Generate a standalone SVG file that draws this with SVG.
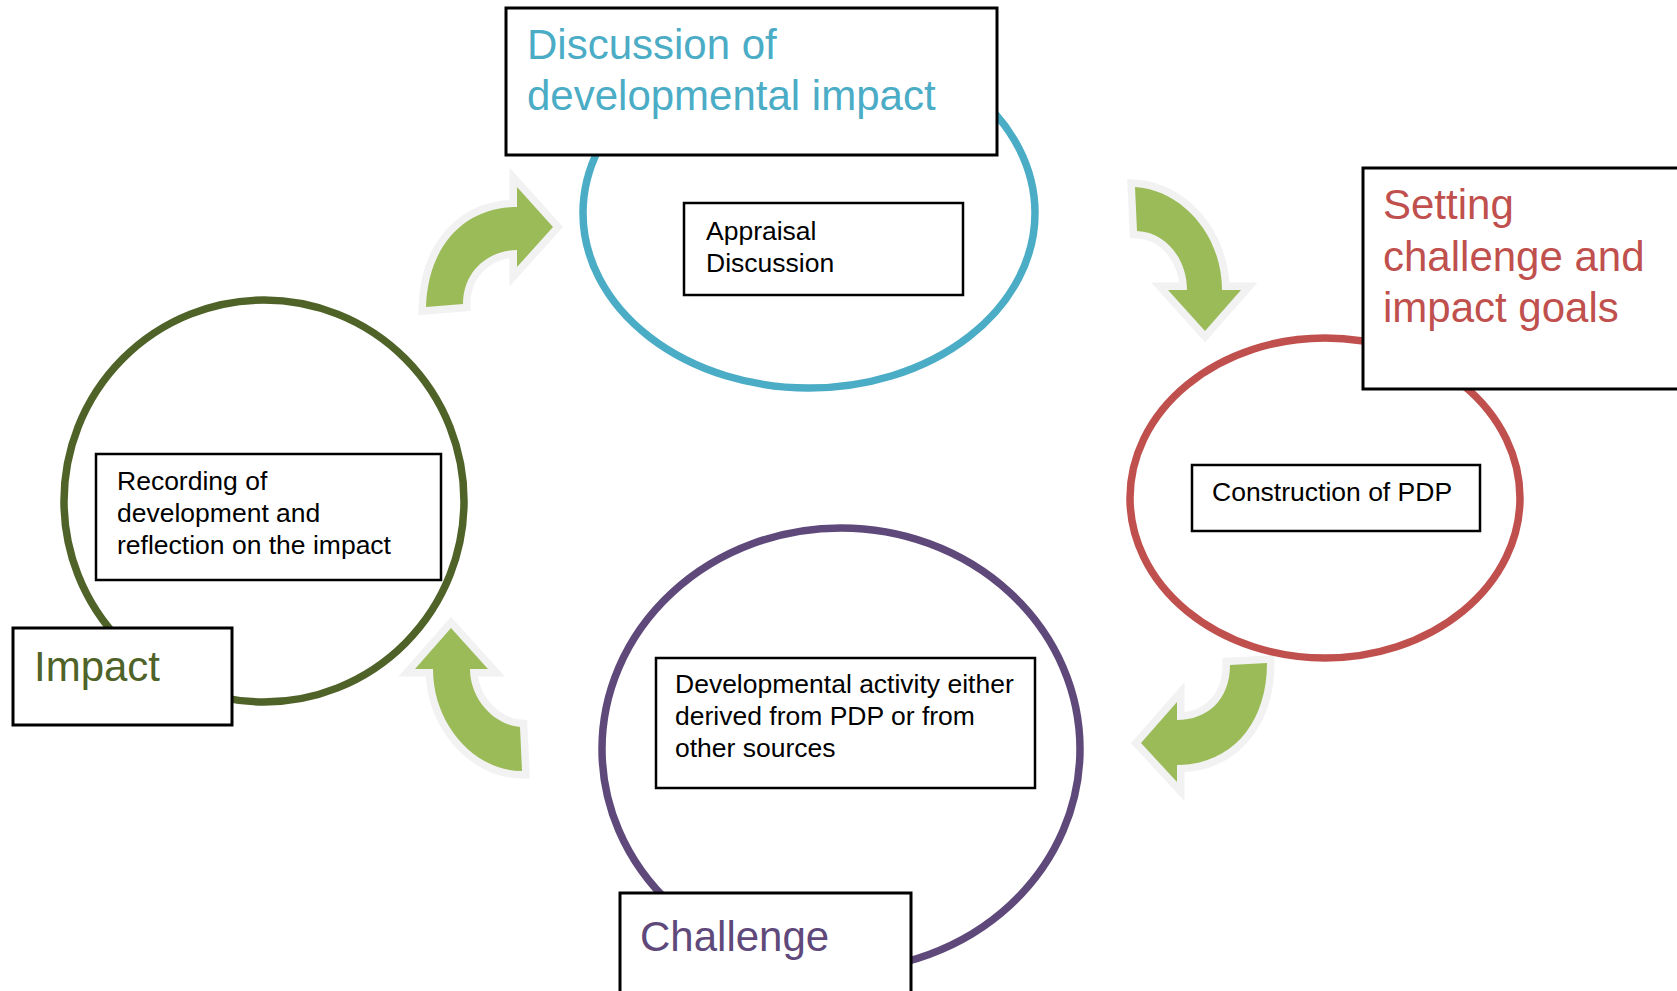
<svg xmlns="http://www.w3.org/2000/svg" width="1677" height="991" viewBox="0 0 1677 991">
<style>
.bg{fill:#ffffff}
.ring{fill:#ffffff;stroke-width:7.5}
.title{fill:#ffffff;stroke:#000000;stroke-width:3}
.inner{fill:#ffffff;stroke:#000000;stroke-width:2.5}
.tt{font-family:"Liberation Sans",Arial,sans-serif;font-size:42px}
.bt{font-family:"Liberation Sans",Arial,sans-serif;font-size:26.5px;fill:#000000}
.arrow{fill:#9BBB59;stroke:#F2F2F2;stroke-width:15;stroke-linejoin:miter;stroke-miterlimit:10;paint-order:stroke}
</style>
<rect class="bg" x="0" y="0" width="1677" height="991"/>

<g id="connectors">
<path class="arrow" d="M426,307 C428,245 465,207 517,207 L517,187 L553,227 L517,267 L517,250 C490,250 463,270 463,304 Z"/>
<path class="arrow" d="M1135,187 C1182,190 1222,235 1222,290 L1241,290 L1205,331 L1168,290 L1187,290 C1187,258 1165,232 1137,231 Z"/>
<path class="arrow" d="M1230,665 L1267,663 C1267,725 1230,765 1177,765 L1177,782 L1141,743 L1177,702 L1177,720 C1207,720 1230,700 1230,665 Z"/>
<path class="arrow" d="M520,727 C495,725 470,700 470,669 L488,669 L451,628 L415,669 L433,669 C433,725 475,771 522,771 Z"/>
</g>

<g id="node-discussion">
<ellipse class="ring" cx="809" cy="213" rx="226" ry="175" stroke="#4BACC6"/>
<rect class="title" x="506" y="8" width="491" height="147"/>
<text class="tt" fill="#4BACC6"><tspan x="527" y="59">Discussion of</tspan><tspan x="527" y="110">developmental impact</tspan></text>
<rect class="inner" x="684" y="203" width="279" height="92"/>
<text class="bt"><tspan x="706" y="240">Appraisal</tspan><tspan x="706" y="272">Discussion</tspan></text>
</g>

<g id="node-setting">
<ellipse class="ring" cx="1325" cy="498" rx="195" ry="160" stroke="#C0504D"/>
<rect class="title" x="1363" y="168" width="340" height="221"/>
<text class="tt" fill="#C0504D"><tspan x="1383" y="219">Setting</tspan><tspan x="1383" y="271">challenge and</tspan><tspan x="1383" y="322">impact goals</tspan></text>
<rect class="inner" x="1192" y="465" width="288" height="66"/>
<text class="bt" x="1212" y="501">Construction of PDP</text>
</g>

<g id="node-challenge">
<ellipse class="ring" cx="841" cy="749" rx="239" ry="221" stroke="#5F497A"/>
<rect class="title" x="620" y="893" width="291" height="110"/>
<text class="tt" fill="#5F497A" x="640" y="951">Challenge</text>
<rect class="inner" x="656" y="658" width="379" height="130"/>
<text class="bt"><tspan x="675" y="693">Developmental activity either</tspan><tspan x="675" y="725">derived from PDP or from</tspan><tspan x="675" y="757">other sources</tspan></text>
</g>

<g id="node-impact">
<ellipse class="ring" cx="264" cy="501" rx="200" ry="201" stroke="#4F6228"/>
<rect class="title" x="13" y="628" width="219" height="97"/>
<text class="tt" fill="#4F6228" x="34" y="681">Impact</text>
<rect class="inner" x="96" y="454" width="345" height="126"/>
<text class="bt"><tspan x="117" y="490">Recording of</tspan><tspan x="117" y="522">development and</tspan><tspan x="117" y="554">reflection on the impact</tspan></text>
</g>
</svg>
